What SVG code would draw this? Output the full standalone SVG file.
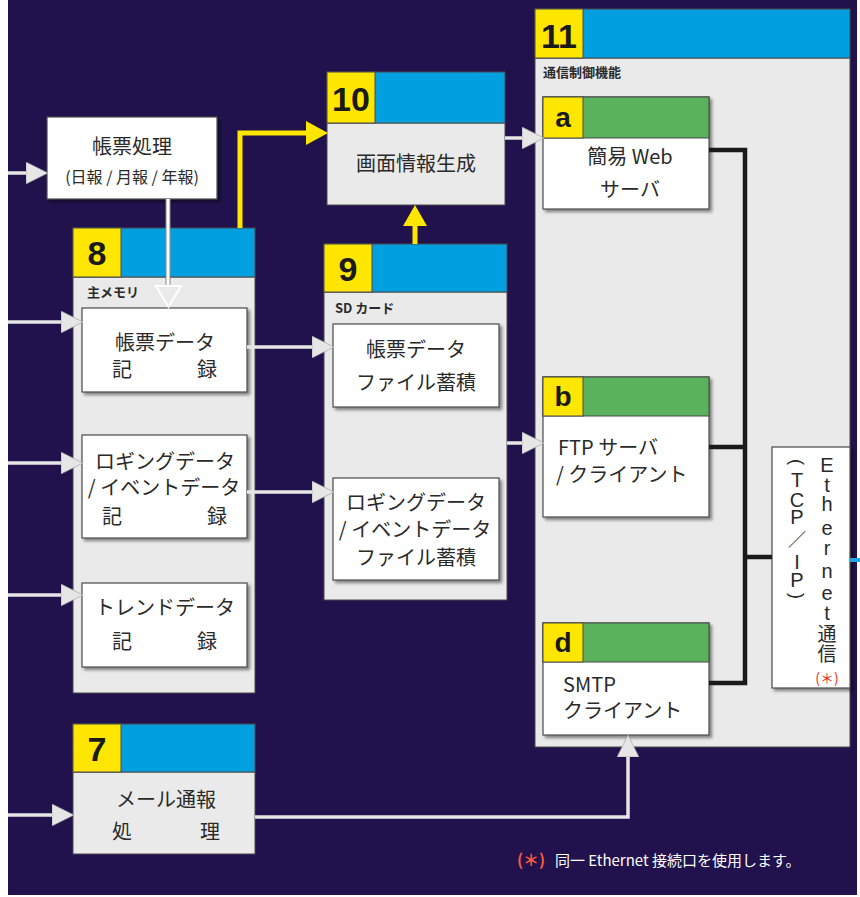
<svg xmlns="http://www.w3.org/2000/svg" width="860" height="897" viewBox="0 0 860 897">
<defs>
<filter id="sh" x="-10%" y="-10%" width="130%" height="130%"><feDropShadow dx="2.5" dy="2.5" stdDeviation="1.5" flood-color="#000" flood-opacity="0.45"/></filter>
<marker id="wa" markerWidth="22" markerHeight="22" refX="0" refY="11" orient="auto" markerUnits="userSpaceOnUse" viewBox="0 0 22 22"><path d="M0,0 L22,11 L0,22 Z" fill="#e6e6e6" stroke="#9a9a9a" stroke-width="0.6"/></marker>
<marker id="ya" markerWidth="24" markerHeight="24" refX="0" refY="12" orient="auto" markerUnits="userSpaceOnUse" viewBox="0 0 24 24"><path d="M0,0 L22,12 L0,24 Z" fill="#ffe600"/></marker>
</defs>
<style>
.bg{fill:#21124d}
.body{fill:#eaeaea;stroke:#4a4a4a;stroke-width:1}
.box{fill:#ffffff;stroke:#4a4a4a;stroke-width:1.2;filter:url(#sh)}
.yel{fill:#ffe600;stroke:#4a4a4a;stroke-width:1}
.blu{fill:#009fe0;stroke:#4a4a4a;stroke-width:1}
.grn{fill:#5bb25c;stroke:#4a4a4a;stroke-width:1}
.num{font-family:"Liberation Sans",Arial,sans-serif;font-weight:bold;font-size:34px;fill:#1a1a1a;text-anchor:middle}
.let{font-family:"Liberation Sans",Arial,sans-serif;font-weight:bold;font-size:28px;fill:#1a1a1a;text-anchor:middle}
.t{font-family:"Noto Sans CJK JP","Noto Sans",sans-serif;font-size:20px;fill:#2a2a2a}
.c{text-anchor:middle}
.s{font-family:"Noto Sans CJK JP","Noto Sans",sans-serif;font-size:13px;font-weight:bold;fill:#2a2a2a}
.v{font-family:"Liberation Sans","Noto Sans CJK JP",sans-serif;font-size:20px;fill:#2a2a2a;text-anchor:middle}
.vj{font-family:"Noto Sans CJK JP",sans-serif;font-size:19px;fill:#2a2a2a;text-anchor:middle}
.wl{fill:none;stroke:#e6e6e6;stroke-width:3.5}
.yl{fill:none;stroke:#ffe600;stroke-width:5}
.bl{fill:none;stroke:#1a1a1a;stroke-width:4.5}
</style>
<rect x="0" y="0" width="860" height="897" fill="#ffffff"/>
<rect class="bg" x="8" y="0" width="849" height="895"/>

<g id="node11">
<rect class="body" x="535" y="58" width="315" height="689"/>
<rect class="blu" x="535" y="9" width="315" height="49"/>
<rect class="yel" x="535" y="9" width="48" height="49"/>
<text class="num" x="559" y="48">11</text>
<text class="s" x="543" y="77">通信制御機能</text>
</g>

<g id="node10">
<rect class="body" x="327" y="123" width="178" height="82"/>
<rect class="blu" x="327" y="72" width="178" height="51"/>
<rect class="yel" x="327" y="72" width="48" height="51"/>
<text class="num" x="351" y="111">10</text>
<text class="t c" x="416" y="171">画面情報生成</text>
</g>

<g id="node8">
<rect class="body" x="73" y="277" width="182" height="416"/>
<rect class="blu" x="73" y="228" width="182" height="49"/>
<rect class="yel" x="73" y="228" width="48" height="49"/>
<text class="num" x="97" y="265">8</text>
<text class="s" x="87" y="297">主メモリ</text>
</g>

<g id="node9">
<rect class="body" x="324" y="292" width="183" height="308"/>
<rect class="blu" x="324" y="244" width="183" height="48"/>
<rect class="yel" x="324" y="244" width="48" height="48"/>
<text class="num" x="348" y="281">9</text>
<text class="s" x="335" y="313">SD カード</text>
</g>

<g id="node7">
<rect class="body" x="73" y="772" width="182" height="82"/>
<rect class="blu" x="73" y="724" width="182" height="48"/>
<rect class="yel" x="73" y="724" width="48" height="48"/>
<text class="num" x="97" y="761">7</text>
<text class="t c" x="166" y="807">メール通報</text>
<text class="t c" x="122" y="839">処</text>
<text class="t c" x="210" y="839">理</text>
</g>

<g id="node-chohyo-shori">
<rect class="box" x="47" y="117" width="170" height="82"/>
<text class="t c" x="132" y="154">帳票処理</text>
<text class="t c" x="132" y="183" style="font-size:16px">(日報 / 月報 / 年報)</text>
</g>

<g id="node-chohyo-kiroku">
<rect class="box" x="82" y="308" width="165" height="84"/>
<text class="t c" x="165" y="350">帳票データ</text>
<text class="t c" x="122" y="377">記</text>
<text class="t c" x="207" y="377">録</text>
</g>

<g id="node-logging-kiroku">
<rect class="box" x="82" y="435" width="165" height="103"/>
<text class="t c" x="165" y="469">ロギングデータ</text>
<text class="t c" x="164" y="495">/ イベントデータ</text>
<text class="t c" x="112" y="524">記</text>
<text class="t c" x="217" y="524">録</text>
</g>

<g id="node-trend-kiroku">
<rect class="box" x="82" y="583" width="165" height="84"/>
<text class="t c" x="165" y="615">トレンドデータ</text>
<text class="t c" x="122" y="649">記</text>
<text class="t c" x="207" y="649">録</text>
</g>

<g id="node-chohyo-file">
<rect class="box" x="333" y="324" width="166" height="83"/>
<text class="t c" x="416" y="357">帳票データ</text>
<text class="t c" x="416" y="390">ファイル蓄積</text>
</g>

<g id="node-logging-file">
<rect class="box" x="333" y="478" width="166" height="102"/>
<text class="t c" x="416" y="510">ロギングデータ</text>
<text class="t c" x="415" y="537">/ イベントデータ</text>
<text class="t c" x="416" y="565">ファイル蓄積</text>
</g>

<g id="node-a">
<rect class="box" x="543" y="97" width="166" height="112"/>
<rect class="grn" x="543" y="97" width="166" height="41"/>
<rect class="yel" x="543" y="97" width="40" height="41"/>
<text class="let" x="563" y="127">a</text>
<text class="t c" x="630" y="164">簡易 Web</text>
<text class="t c" x="630" y="197">サーバ</text>
</g>

<g id="node-b">
<rect class="box" x="543" y="377" width="166" height="140"/>
<rect class="grn" x="543" y="377" width="166" height="39"/>
<rect class="yel" x="543" y="377" width="40" height="39"/>
<text class="let" x="563" y="406">b</text>
<text class="t" x="558" y="455">FTP サーバ</text>
<text class="t" x="556" y="482">/ クライアント</text>
</g>

<g id="node-d">
<rect class="box" x="543" y="623" width="166" height="112"/>
<rect class="grn" x="543" y="623" width="166" height="39"/>
<rect class="yel" x="543" y="623" width="40" height="39"/>
<text class="let" x="563" y="652">d</text>
<text class="t" x="563" y="692">SMTP</text>
<text class="t" x="563" y="718">クライアント</text>
</g>

<g id="node-ethernet">
<rect class="box" x="772" y="447" width="78" height="241"/>
<text class="v" x="827" y="472">E</text>
<text class="v" x="827" y="492">t</text>
<text class="v" x="827" y="511">h</text>
<text class="v" x="827" y="535">e</text>
<text class="v" x="827" y="555">r</text>
<text class="v" x="827" y="578">n</text>
<text class="v" x="827" y="600">e</text>
<text class="v" x="827" y="620">t</text>
<text class="vj" x="827" y="641">通</text>
<text class="vj" x="827" y="661">信</text>
<text class="vj" x="827" y="683" style="font-size:14px;fill:#ee2a1e">(＊)</text>
<text class="v" x="797" y="462" dominant-baseline="central" transform="rotate(90 797 462)" style="font-size:18px">(</text>
<text class="v" x="797" y="487">T</text>
<text class="v" x="797" y="507">C</text>
<text class="v" x="797" y="524">P</text>
<text class="vj" x="797" y="546" style="font-size:18px">／</text>
<text class="v" x="797" y="569">I</text>
<text class="v" x="797" y="587">P</text>
<text class="v" x="797" y="596" dominant-baseline="central" transform="rotate(90 797 596)" style="font-size:18px">)</text>
</g>

<g id="connectors">
<line class="wl" x1="8" y1="173" x2="26" y2="173" marker-end="url(#wa)"/>
<line class="wl" x1="8" y1="322" x2="61" y2="322" marker-end="url(#wa)"/>
<line class="wl" x1="8" y1="463" x2="61" y2="463" marker-end="url(#wa)"/>
<line class="wl" x1="8" y1="595" x2="61" y2="595" marker-end="url(#wa)"/>
<line class="wl" x1="8" y1="815" x2="52" y2="815" marker-end="url(#wa)"/>
<line class="wl" x1="247" y1="347" x2="312" y2="347" marker-end="url(#wa)"/>
<line class="wl" x1="247" y1="492" x2="312" y2="492" marker-end="url(#wa)"/>
<line class="wl" x1="505" y1="138" x2="522" y2="138" marker-end="url(#wa)"/>
<line class="wl" x1="507" y1="443" x2="522" y2="443" marker-end="url(#wa)"/>
<path class="wl" d="M255,817 H628 V757" marker-end="url(#wa)"/>
<line x1="168" y1="199" x2="168" y2="286" stroke="#8a8a8a" stroke-width="5"/>
<line x1="168" y1="199" x2="168" y2="286" stroke="#ffffff" stroke-width="3"/>
<path d="M156,286 L181,286 L168.5,307 Z" fill="#eaeaea" stroke="#ffffff" stroke-width="2"/>
<path class="yl" d="M240,228 V133 H306" marker-end="url(#ya)"/>
<path class="yl" d="M415,244 V226"/>
<path d="M403,226 L427,226 L415,205 Z" fill="#ffe600"/>
<path class="bl" d="M709,150 H745 V683 H709"/>
<line class="bl" x1="709" y1="447" x2="745" y2="447"/>
<line class="bl" x1="745" y1="557" x2="772" y2="557"/>
<line x1="850" y1="560" x2="860" y2="560" stroke="#22a6e6" stroke-width="4"/>
</g>

<g id="note">
<text x="517" y="866" style="font-family:'Noto Sans CJK JP',sans-serif;font-size:16px;font-weight:bold;fill:#ff5a3c">(＊)</text>
<text x="555" y="866" style="font-family:'Noto Sans CJK JP','Noto Sans',sans-serif;font-size:15px;fill:#ffffff">同一 Ethernet 接続口を使用します。</text>
</g>
</svg>
